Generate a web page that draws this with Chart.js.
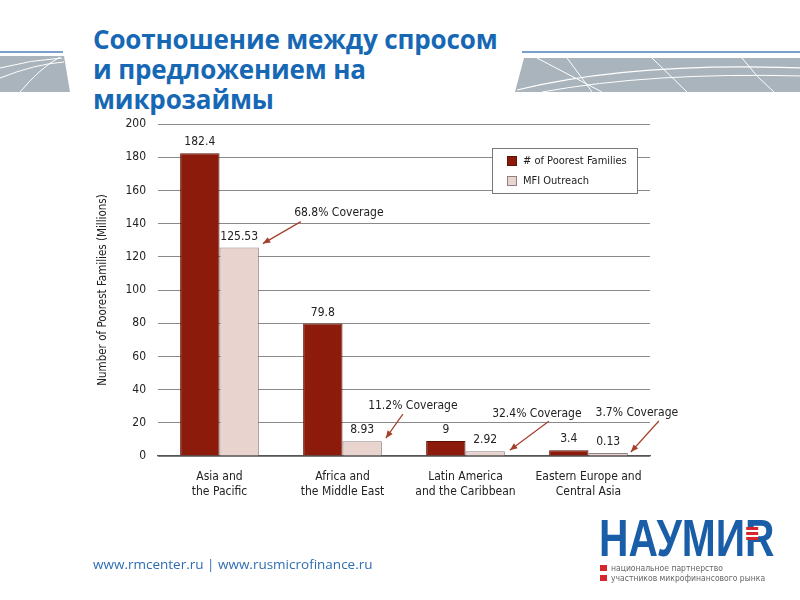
<!DOCTYPE html>
<html>
<head>
<meta charset="utf-8">
<script src="https://cdn.jsdelivr.net/npm/chart.js@4.4.1/dist/chart.umd.min.js"></script>
<style>
  html, body { margin: 0; padding: 0; background: #fff; }
  #page { position: relative; width: 800px; height: 600px; overflow: hidden; }
  #chart { position: absolute; left: 0; top: 0; }
  .title {
    position: absolute; left: 93px; top: 24px; margin: 0;
    font-family: "Open Sans", sans-serif; font-weight: 700; font-size: 26px;
    line-height: 30px; color: #1667b4; letter-spacing: -0.15px;
  }
  .deco { position: absolute; top: 48px; }
  .footer {
    position: absolute; left: 93px; top: 555px;
    font-family: "Open Sans", sans-serif; font-size: 13.5px; color: #2f6db3;
  }
  .logo { position: absolute; left: 599px; top: 515px; width: 185px; }
  .logo .big {
    font-family: "Liberation Sans", Arial, sans-serif;
    font-weight: 700; font-size: 51px; line-height: 48px; color: #1a5ea8;
    transform: scaleX(0.8); transform-origin: left top; white-space: nowrap;
    position: relative;
  }
  .logo .stripes {
    position: absolute; left: 184px; top: 12px; width: 15px; height: 13px;
    background: repeating-linear-gradient(#d8262d 0 3px, #fff 3px 5px);
  }
  .logo .small {
    font-family: "DejaVu Sans Condensed", sans-serif;
    font-size: 8.5px; line-height: 10px; color: #666; margin-left: 12px; position: relative;
    white-space: nowrap;
  }
  .logo .small:before {
    content: ""; position: absolute; left: -11px; top: 2px; width: 7px; height: 6px; background: #d8262d;
  }
</style>
</head>
<body>
<div id="page">
  <svg class="deco" style="left:0" width="75" height="50">
    <line x1="0" y1="4" x2="63" y2="4" stroke="#4d7fb8" stroke-width="1.5"/>
    <polygon points="0,8 64,8 70,44 0,44" fill="#a9b4bc"/>
    <path d="M0,20 Q30,12 62,10" stroke="#fff" stroke-width="1" fill="none"/>
    <path d="M0,30 Q35,16 64,14" stroke="#fff" stroke-width="1" fill="none"/>
    <path d="M20,44 Q40,20 60,9" stroke="#fff" stroke-width="1" fill="none"/>
  </svg>
  <svg class="deco" style="left:512px" width="290" height="50">
    <line x1="10" y1="4" x2="290" y2="4" stroke="#4d7fb8" stroke-width="1.5"/>
    <polygon points="12,10 290,10 290,44 3,44" fill="#a9b4bc"/>
    <path d="M5,42 Q120,14 290,20" stroke="#fff" stroke-width="1.2" fill="none"/>
    <path d="M30,44 Q140,24 290,28" stroke="#fff" stroke-width="1" fill="none"/>
    <path d="M25,10 L90,44" stroke="#fff" stroke-width="1" fill="none"/>
    <path d="M55,10 Q70,30 80,44" stroke="#fff" stroke-width="1" fill="none"/>
    <path d="M140,10 L175,44" stroke="#fff" stroke-width="1" fill="none"/>
    <path d="M230,10 Q245,30 262,44" stroke="#fff" stroke-width="1" fill="none"/>
  </svg>
  <h1 class="title">Соотношение между спросом<br>и предложением на<br>микрозаймы</h1>
  <canvas id="chart" width="800" height="600"></canvas>
  <div class="footer">www.rmcenter.ru | www.rusmicrofinance.ru</div>
  <div class="logo">
    <div class="big">НАУМИR<span class="stripes"></span></div>
    <div class="small">национальное партнерство</div>
    <div class="small">участников микрофинансового рынка</div>
  </div>
</div>
<script>
const regions = [
  ['Asia and', 'the Pacific'],
  ['Africa and', 'the Middle East'],
  ['Latin America', 'and the Caribbean'],
  ['Eastern Europe and', 'Central Asia']
];
const poorestFamilies = [182.4, 79.8, 9, 3.4];
const mfiOutreach = [125.53, 8.93, 2.92, 0.13];
const coverage = ['68.8% Coverage', '11.2% Coverage', '32.4% Coverage', '3.7% Coverage'];
const yTicks = [0, 20, 40, 60, 80, 100, 120, 140, 160, 180, 200];

const FONT = '"Liberation Sans Narrow", "DejaVu Sans Condensed", sans-serif';
const ARROW = '#a5402c';

// where each coverage note sits, relative to the top-right corner of the outreach bar
const notePos = [
  { tx: 80, ty: -35, sx: 42, sy: -26, ex: 4, ey: -4 },
  { tx: 31, ty: -35, sx: 21, sy: -27, ex: 4, ey: -3 },
  { tx: 32, ty: -37, sx: 44, sy: -30, ex: 5, ey: -1 },
  { tx: 9, ty: -40, sx: 31, sy: -32, ex: 3, ey: -1 }
];

const overlay = {
  id: 'overlay',
  afterDatasetsDraw(chart) {
    const ctx = chart.ctx;
    ctx.save();
    ctx.font = '12px ' + FONT;
    ctx.fillStyle = '#222';
    ctx.textAlign = 'center';
    ctx.textBaseline = 'bottom';
    chart.data.datasets.forEach((ds, di) => {
      chart.getDatasetMeta(di).data.forEach((bar, i) => {
        ctx.fillText(String(ds.data[i]), bar.x, bar.y - 5);
      });
    });

    // coverage notes with arrows
    const meta = chart.getDatasetMeta(1);
    meta.data.forEach((bar, i) => {
      const cx = bar.x + bar.width / 2, cy = bar.y;
      const p = notePos[i];
      ctx.fillStyle = '#222';
      ctx.textBaseline = 'middle';
      ctx.fillText(coverage[i], cx + p.tx, cy + p.ty);
      const x1 = cx + p.sx, y1 = cy + p.sy, x2 = cx + p.ex, y2 = cy + p.ey;
      ctx.strokeStyle = ARROW;
      ctx.fillStyle = ARROW;
      ctx.lineWidth = 1.2;
      ctx.beginPath(); ctx.moveTo(x1, y1); ctx.lineTo(x2, y2); ctx.stroke();
      const a = Math.atan2(y2 - y1, x2 - x1);
      ctx.beginPath();
      ctx.moveTo(x2, y2);
      ctx.lineTo(x2 - 8 * Math.cos(a - 0.4), y2 - 8 * Math.sin(a - 0.4));
      ctx.lineTo(x2 - 8 * Math.cos(a + 0.4), y2 - 8 * Math.sin(a + 0.4));
      ctx.closePath(); ctx.fill();
    });

    // boxed legend inside the plot
    const lx = 492, ly = 148, lw = 145, lh = 45;
    ctx.font = '11px ' + FONT;
    ctx.fillStyle = '#fff';
    ctx.fillRect(lx, ly, lw, lh);
    ctx.strokeStyle = '#777';
    ctx.lineWidth = 1;
    ctx.strokeRect(lx + 0.5, ly + 0.5, lw, lh);
    ctx.textAlign = 'left';
    chart.data.datasets.forEach((ds, di) => {
      const y = ly + 13 + di * 20;
      ctx.fillStyle = ds.backgroundColor;
      ctx.fillRect(lx + 15, y - 5, 10, 10);
      ctx.strokeStyle = ds.borderColor;
      ctx.strokeRect(lx + 15.5, y - 4.5, 9, 9);
      ctx.fillStyle = '#222';
      ctx.fillText(ds.label, lx + 31, y);
    });
    ctx.restore();
  }
};

new Chart(document.getElementById('chart'), {
  type: 'bar',
  data: {
    labels: regions,
    datasets: [
      {
        label: '# of Poorest Families',
        data: poorestFamilies,
        backgroundColor: '#8c1b0c',
        borderColor: '#5e1107',
        borderWidth: 1
      },
      {
        label: 'MFI Outreach',
        data: mfiOutreach,
        backgroundColor: '#e9d3cf',
        borderColor: '#8f8280',
        borderWidth: 1,
        minBarLength: 3
      }
    ]
  },
  options: {
    responsive: false,
    animation: false,
    devicePixelRatio: 1,
    layout: { padding: { left: 92, top: 124, right: 150, bottom: 94 } },
    categoryPercentage: 0.64,
    barPercentage: 1.0,
    plugins: {
      legend: { display: false },
      tooltip: { enabled: false }
    },
    scales: {
      x: {
        grid: { display: false, drawTicks: false },
        border: { color: '#555', width: 1.2 },
        ticks: { color: '#222', padding: 14, font: { family: FONT, size: 12 } },
        afterFit(scale) { scale.height = 50; }
      },
      y: {
        min: 0,
        max: 200,
        afterBuildTicks(scale) { scale.ticks = yTicks.map(v => ({ value: v })); },
        grid: { color: '#8a8a8a', lineWidth: 1, drawTicks: false },
        border: { display: false },
        ticks: { color: '#222', padding: 12, font: { family: FONT, size: 12 } },
        title: {
          display: true,
          text: 'Number of Poorest Families (Millions)',
          color: '#222',
          font: { family: FONT, size: 11.5 },
          padding: { top: 4, bottom: 0 }
        },
        afterFit(scale) { scale.width = 66; }
      }
    }
  },
  plugins: [overlay]
});
</script>
</body>
</html>
